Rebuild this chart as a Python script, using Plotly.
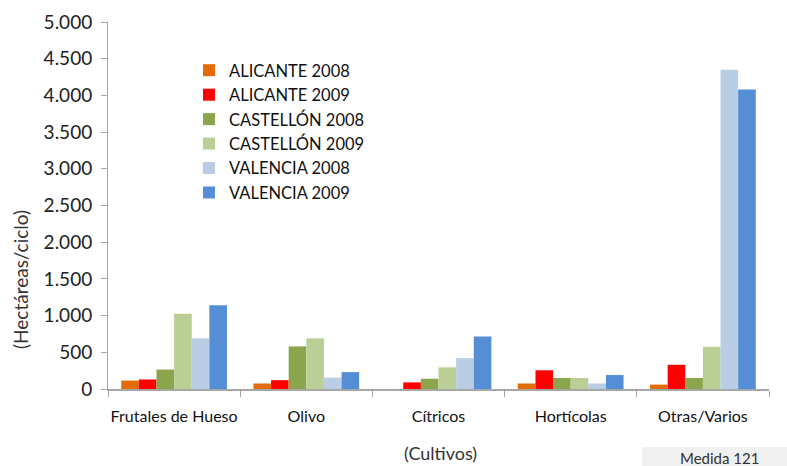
import plotly.graph_objects as go

categories = ["Frutales de Hueso", "Olivo", "Cítricos", "Hortícolas", "Otras/Varios"]
series_names = ["ALICANTE 2008", "ALICANTE 2009", "CASTELLÓN 2008", "CASTELLÓN 2009", "VALENCIA 2008", "VALENCIA 2009"]
alicante_2008 = [115, 75, 0, 75, 60]
alicante_2009 = [130, 120, 90, 255, 330]
castellon_2008 = [265, 580, 140, 150, 150]
castellon_2009 = [1025, 690, 295, 150, 575]
valencia_2008 = [690, 155, 420, 75, 4350]
valencia_2009 = [1140, 230, 715, 190, 4080]
y_ticks = [0, 500, 1000, 1500, 2000, 2500, 3000, 3500, 4000, 4500, 5000]

series_values = [alicante_2008, alicante_2009, castellon_2008, castellon_2009, valencia_2008, valencia_2009]
colors = ["#E36C09", "#FF0000", "#8AA54C", "#BACF96", "#B9CDE5", "#558ED5"]

FONT = "Lato, 'Open Sans', sans-serif"
fig = go.Figure()
for name, vals, col in zip(series_names, series_values, colors):
    fig.add_trace(go.Bar(x=categories, y=vals, name=name, marker=dict(color=col, line=dict(width=0))))

W, H = 787, 466
L, R, T, B = 108, 18, 22, 77
pw, ph = W - L - R, H - T - B

def px(xp):
    return (xp - L) / pw

def py(yp):
    return (H - B - yp) / ph

fig.update_layout(
    width=W, height=H,
    margin=dict(l=L, r=R, t=T, b=B, autoexpand=False),
    paper_bgcolor="white", plot_bgcolor="white",
    barmode="group", bargap=0.2, bargroupgap=0,
    separators=",.",
    font=dict(family=FONT, size=14, color="#222"),
    legend=dict(x=px(189), y=py(53), xanchor="left", yanchor="top",
                font=dict(size=16.5, color="#111"), bgcolor="rgba(0,0,0,0)",
                tracegroupgap=0, itemwidth=30),
    showlegend=True,
)
fig.update_xaxes(
    automargin=False, tickangle=0, ticklabelstandoff=12,
    showline=True, linecolor="#A6A6A6", linewidth=1.5,
    ticks="outside", tickson="boundaries", ticklen=6, tickcolor="#A6A6A6",
    tickfont=dict(size=16, color="#111"),
    showgrid=False,
)
fig.update_yaxes(
    automargin=False, ticklabelstandoff=5,
    range=[0, 5000], tickvals=y_ticks, tickformat=",.0f",
    showline=True, linecolor="#A6A6A6", linewidth=1,
    ticks="outside", ticklen=6, tickcolor="#A6A6A6",
    tickfont=dict(size=19, color="#222"),
    showgrid=False, zeroline=False,
)
fig.add_annotation(xref="paper", yref="paper", x=px(440), y=py(453),
                   text="(Cultivos)", showarrow=False, font=dict(size=18, color="#333"),
                   xanchor="center", yanchor="middle")
fig.add_annotation(xref="paper", yref="paper", x=px(20), y=py(280),
                   text="(Hectáreas/ciclo)", showarrow=False, textangle=-90,
                   font=dict(size=19, color="#333"), xanchor="center", yanchor="middle")
fig.add_shape(type="rect", xref="paper", yref="paper",
              x0=px(642), x1=px(787), y0=py(466), y1=py(447),
              fillcolor="#F0F0F0", line=dict(width=0), layer="below")
fig.add_annotation(xref="paper", yref="paper", x=px(719), y=py(458),
                   text="Medida 121", showarrow=False, font=dict(size=15, color="#333"),
                   xanchor="center", yanchor="middle")

fig.write_html("out.html", config={"displayModeBar": False},
               post_script="document.body.style.margin='0';document.body.style.overflow='hidden';")
